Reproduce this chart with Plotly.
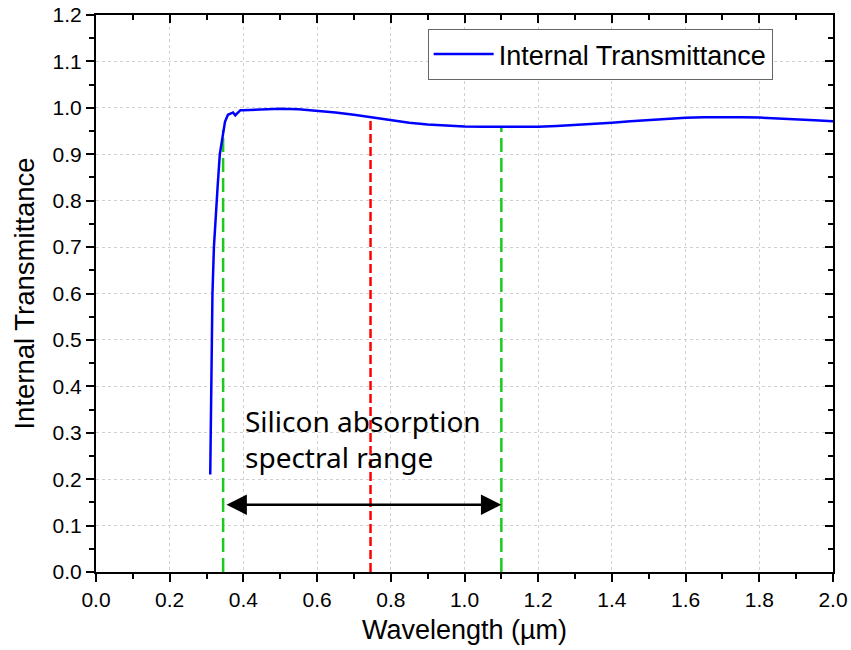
import plotly.graph_objects as go

# Data
wavelength = [0.310, 0.313, 0.316, 0.320, 0.325, 0.330, 0.336, 0.342, 0.350, 0.358,
              0.366, 0.372, 0.378, 0.385, 0.392, 0.40, 0.45, 0.50, 0.55, 0.60,
              0.65, 0.70, 0.75, 0.80, 0.85, 0.90, 0.95, 1.00, 1.05, 1.10,
              1.15, 1.20, 1.25, 1.30, 1.35, 1.40, 1.45, 1.50, 1.55, 1.60,
              1.65, 1.70, 1.75, 1.80, 1.85, 1.90, 1.95, 2.00]
transmittance = [0.21, 0.40, 0.60, 0.70, 0.78, 0.83, 0.90, 0.935, 0.97, 0.985,
                 0.988, 0.99, 0.984, 0.99, 0.995, 0.995, 0.997, 0.998, 0.997, 0.994,
                 0.990, 0.985, 0.979, 0.973, 0.968, 0.964, 0.9615, 0.960, 0.9595, 0.959,
                 0.959, 0.9595, 0.961, 0.963, 0.9655, 0.968, 0.971, 0.974, 0.9765, 0.9785,
                 0.9795, 0.980, 0.9798, 0.979, 0.9775, 0.9755, 0.9733, 0.971]

green_lines_x = [0.345, 1.10]
green_lines_top = [0.952, 0.958]
red_line_x = [0.745]
red_line_top = [0.978]

arrow_start = 0.35
arrow_end = 1.10
arrow_y = 0.145

x_range = [0.0, 2.0]
y_range = [0.0, 1.2]

FONT = "Arial, Liberation Sans, sans-serif"

fig = go.Figure()

for gx, gt in zip(green_lines_x, green_lines_top):
    fig.add_trace(go.Scatter(x=[gx, gx], y=[0, gt], mode="lines",
                             line=dict(color="#1FC81F", width=2.5, dash="14px,6px"),
                             showlegend=False, hoverinfo="skip"))
for rx, rt in zip(red_line_x, red_line_top):
    fig.add_trace(go.Scatter(x=[rx, rx], y=[0, rt], mode="lines",
                             line=dict(color="#FF0000", width=2.5, dash="9px,4px"),
                             showlegend=False, hoverinfo="skip"))

fig.add_trace(go.Scatter(x=wavelength, y=transmittance, mode="lines",
                         name="Internal Transmittance",
                         line=dict(color="#0000FF", width=2.5)))

# invisible trace for the mirrored (top/right) axes
fig.add_trace(go.Scatter(x=x_range, y=y_range, xaxis="x2", yaxis="y2",
                         mode="markers", marker=dict(opacity=0),
                         showlegend=False, hoverinfo="skip"))

fig.add_annotation(x=arrow_end, y=arrow_y, ax=arrow_start, ay=arrow_y,
                   xref="x", yref="y", axref="x", ayref="y",
                   text="", showarrow=True, arrowhead=2, arrowside="end+start",
                   arrowwidth=2.4, arrowsize=1.7, arrowcolor="black")

fig.add_annotation(x=0.40, y=0.2876, xref="x", yref="y",
                   text="Silicon absorption<br>spectral range",
                   showarrow=False, xanchor="left", yanchor="middle", align="left",
                   font=dict(family="Noto Sans", size=28, color="black"))

axis_common = dict(showline=True, linecolor="black", linewidth=2,
                   tickcolor="black", tickwidth=2, ticklen=8,
                   zeroline=False, automargin=False)

fig.update_layout(
    width=851, height=650,
    margin=dict(l=96, r=18, t=15, b=78, autoexpand=False),
    paper_bgcolor="white", plot_bgcolor="white",
    font=dict(family=FONT, color="black"),
    xaxis=dict(range=x_range, dtick=0.2, tick0=0, tickformat=".1f",
               ticks="outside", showgrid=True, gridcolor="#d0d0d0",
               griddash="dot", gridwidth=1,
               tickfont=dict(size=21, family=FONT),
               title=dict(text="Wavelength (µm)", font=dict(size=27, family=FONT),
                          standoff=10),
               minor=dict(dtick=0.1, ticks="outside", ticklen=5, tickwidth=2,
                          tickcolor="black", showgrid=False),
               **axis_common),
    yaxis=dict(range=y_range, dtick=0.1, tick0=0, tickformat=".1f",
               ticks="outside", showgrid=True, gridcolor="#d0d0d0",
               griddash="dot", gridwidth=1,
               tickfont=dict(size=21, family=FONT),
               title=dict(text="Internal Transmittance", font=dict(size=27.5, family=FONT),
                          standoff=10),
               minor=dict(dtick=0.05, ticks="outside", ticklen=5, tickwidth=2,
                          tickcolor="black", showgrid=False),
               **axis_common),
    xaxis2=dict(range=x_range, overlaying="x", side="top", dtick=0.2, tick0=0,
                ticks="inside", showticklabels=False, showgrid=False,
                minor=dict(dtick=0.1, ticks="inside", ticklen=5, tickwidth=2,
                           tickcolor="black"),
                **axis_common),
    yaxis2=dict(range=y_range, overlaying="y", side="right", anchor="x2",
                dtick=0.1, tick0=0,
                ticks="inside", showticklabels=False, showgrid=False,
                minor=dict(dtick=0.05, ticks="inside", ticklen=5, tickwidth=2,
                           tickcolor="black"),
                **axis_common),
    legend=dict(x=0.45, y=0.975, xanchor="left", yanchor="top",
                bordercolor="#666666", borderwidth=1, bgcolor="white",
                font=dict(size=27, family=FONT),
                tracegroupgap=0, itemwidth=60),
    showlegend=True,
)

fig.write_html("out.html")
